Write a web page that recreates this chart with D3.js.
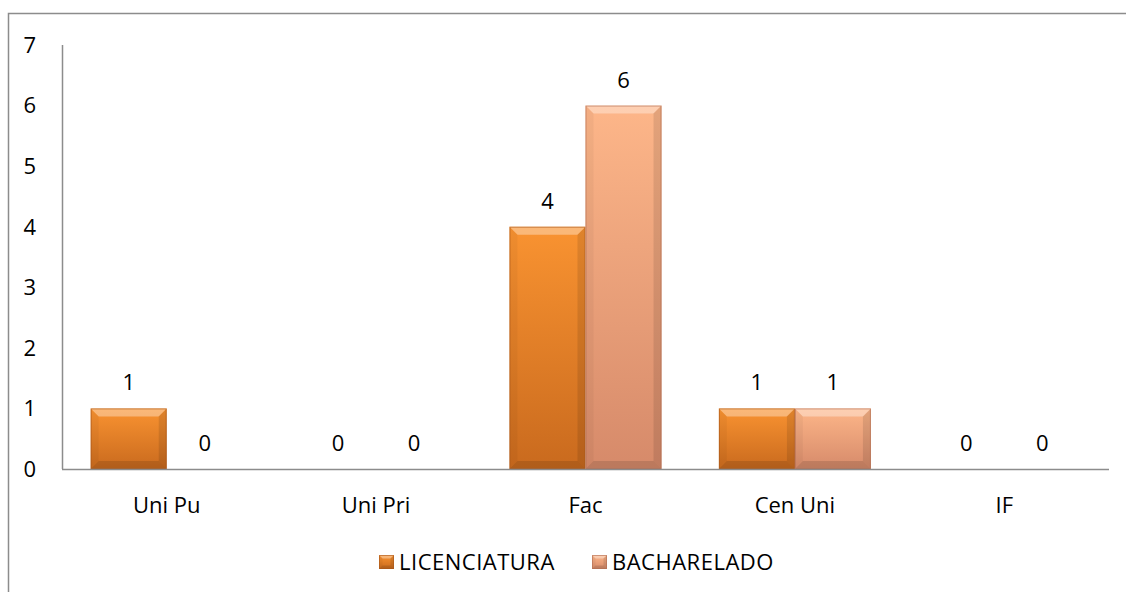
<!DOCTYPE html>
<html>
  <head>
    <title>bar-chart</title>
    <style>
      html,
      body {
        padding: 0;
        margin: 0;
        background: #fff;
        font-family: 'Open Sans', sans-serif;
      }
      svg {
        display: block;
      }
    </style>
  </head>
  <body>
    <svg width="1126" height="592"></svg>

    <script src="https://cdn.jsdelivr.net/npm/d3@7"></script>
    <script>
      const categories = ['Uni Pu', 'Uni Pri', 'Fac', 'Cen Uni', 'IF'];
      const series = ['LICENCIATURA', 'BACHARELADO'];
      const licenciatura = [1, 0, 4, 1, 0];
      const bacharelado = [0, 0, 6, 1, 0];
      const yTicks = [0, 1, 2, 3, 4, 5, 6, 7];
    </script>
    <script>
      const svg = d3.select('svg');
      const margin = { left: 62, right: 17, top: 45, bottom: 122 };
      const width = 1126;
      const height = 592;
      const fontSize = 22;

      // 系列颜色: 顶部 / 底部
      const colors = {
        LICENCIATURA: { top: '#f99331', bottom: '#c96a1e', edge: '#a8561a' },
        BACHARELADO: { top: '#fdb689', bottom: '#d68a6a', edge: '#b06d52' },
      };

      const rows = categories.map((c, i) => ({
        cat: c,
        values: [
          { key: 'LICENCIATURA', value: licenciatura[i] },
          { key: 'BACHARELADO', value: bacharelado[i] },
        ],
      }));

      const x0 = d3
        .scaleBand()
        .domain(categories)
        .range([margin.left, width - margin.right])
        .paddingInner(0.274)
        .paddingOuter(0.137);
      const x1 = d3.scaleBand().domain(series).range([0, x0.bandwidth()]);
      const y = d3
        .scaleLinear()
        .domain([0, 7])
        .range([height - margin.bottom - 1, margin.top]);

      // 外框
      svg
        .append('path')
        .attr('d', `M8.5,${height}V13.5H${width}`)
        .attr('fill', 'none')
        .attr('stroke', '#8c8c8c')
        .attr('stroke-width', 1.5);

      // 渐变定义
      const defs = svg.append('defs');
      series.forEach((s) => {
        const g = defs
          .append('linearGradient')
          .attr('id', 'grad-' + s)
          .attr('x1', 0)
          .attr('y1', 0)
          .attr('x2', 0)
          .attr('y2', 1);
        g.append('stop').attr('offset', '0%').attr('stop-color', colors[s].top);
        g.append('stop').attr('offset', '100%').attr('stop-color', colors[s].bottom);
      });

      function bevel(sel, x, yTop, w, h, s) {
        const b = Math.min(8, w / 4, h / 4);
        sel
          .append('rect')
          .attr('x', x)
          .attr('y', yTop)
          .attr('width', w)
          .attr('height', h)
          .attr('fill', `url(#grad-${s})`);
        // 顶部高光
        sel
          .append('polygon')
          .attr('points', [[x, yTop], [x + w, yTop], [x + w - b, yTop + b], [x + b, yTop + b]].join(' '))
          .attr('fill', '#fff')
          .attr('fill-opacity', 0.35);
        // 左右
        sel
          .append('polygon')
          .attr('points', [[x, yTop], [x + b, yTop + b], [x + b, yTop + h - b], [x, yTop + h]].join(' '))
          .attr('fill', '#000')
          .attr('fill-opacity', 0.04);
        sel
          .append('polygon')
          .attr('points', [[x + w, yTop], [x + w - b, yTop + b], [x + w - b, yTop + h - b], [x + w, yTop + h]].join(' '))
          .attr('fill', '#000')
          .attr('fill-opacity', 0.1);
        // 底部
        sel
          .append('polygon')
          .attr('points', [[x, yTop + h], [x + b, yTop + h - b], [x + w - b, yTop + h - b], [x + w, yTop + h]].join(' '))
          .attr('fill', '#000')
          .attr('fill-opacity', 0.12);
        sel
          .append('rect')
          .attr('x', x + 0.5)
          .attr('y', yTop + 0.5)
          .attr('width', Math.max(0, w - 1))
          .attr('height', Math.max(0, h - 1))
          .attr('fill', 'none')
          .attr('stroke', colors[s].edge)
          .attr('stroke-opacity', 0.6);
      }

      // 柱子
      const groups = svg
        .append('g')
        .selectAll('g')
        .data(rows)
        .join('g')
        .attr('transform', (d) => `translate(${x0(d.cat)},0)`);

      groups.each(function (d) {
        const g = d3.select(this);
        d.values.forEach((v) => {
          if (v.value > 0) {
            bevel(g.append('g'), x1(v.key), y(v.value), x1.bandwidth(), y(0) - y(v.value), v.key);
          }
          g.append('text')
            .attr('x', x1(v.key) + x1.bandwidth() / 2)
            .attr('y', y(v.value) - 18)
            .attr('text-anchor', 'middle')
            .attr('font-size', fontSize)
            .attr('fill', '#000')
            .text(v.value);
        });
      });

      // 坐标轴
      const axisColor = '#8c8c8c';
      svg
        .append('line')
        .attr('x1', margin.left + 0.5)
        .attr('x2', margin.left + 0.5)
        .attr('y1', y(7))
        .attr('y2', y(0))
        .attr('stroke', axisColor)
        .attr('stroke-width', 1.5);
      svg
        .append('line')
        .attr('x1', margin.left)
        .attr('x2', width - margin.right)
        .attr('y1', y(0) + 0.5)
        .attr('y2', y(0) + 0.5)
        .attr('stroke', axisColor)
        .attr('stroke-width', 1.5);

      svg
        .append('g')
        .selectAll('text')
        .data(yTicks)
        .join('text')
        .attr('x', 36)
        .attr('y', (d) => y(d))
        .attr('dy', '0.36em')
        .attr('text-anchor', 'end')
        .attr('font-size', fontSize)
        .text((d) => d);

      svg
        .append('g')
        .selectAll('text')
        .data(categories)
        .join('text')
        .attr('x', (d) => x0(d) + x0.bandwidth() / 2)
        .attr('y', 513)
        .attr('text-anchor', 'middle')
        .attr('font-size', fontSize)
        .text((d) => d);

      // 图例
      const legendPos = [379, 592];
      series.forEach((s, i) => {
        const g = svg.append('g');
        bevel(g, legendPos[i], 555, 15, 14, s);
        g.append('text')
          .attr('x', legendPos[i] + 20)
          .attr('y', 570)
          .attr('font-size', fontSize)
          .attr('letter-spacing', 0.5)
          .text(s);
      });
    </script>
  </body>
</html>
